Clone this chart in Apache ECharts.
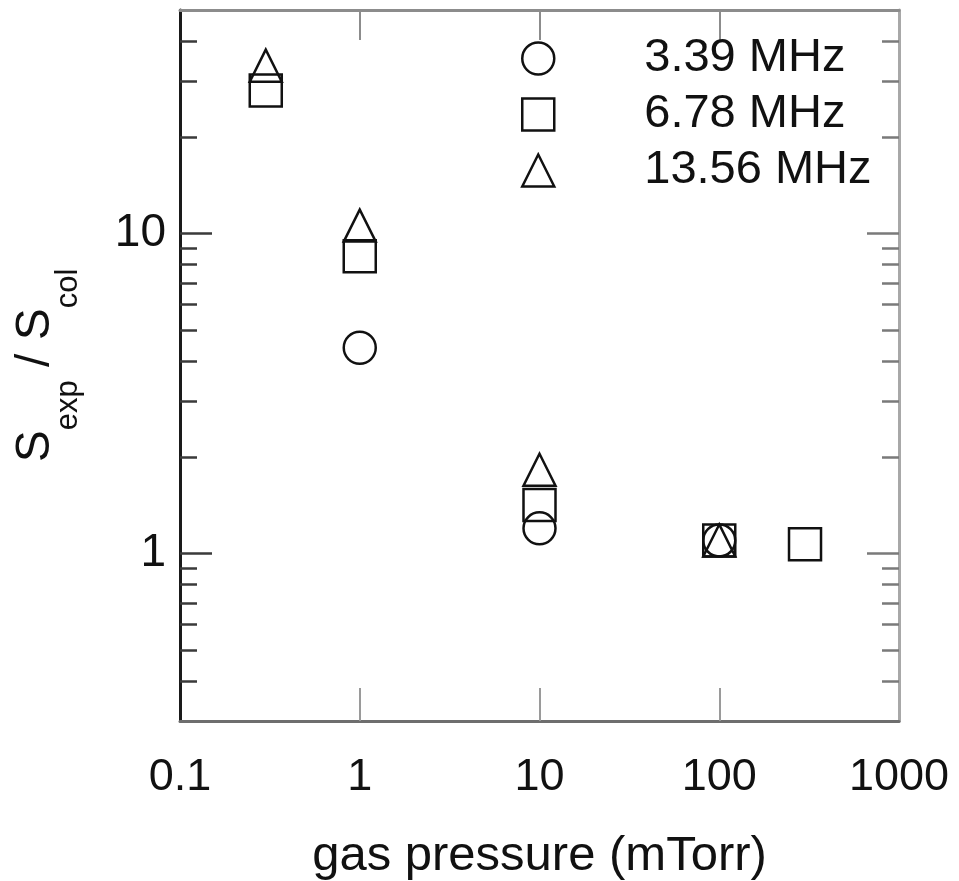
<!DOCTYPE html>
<html><head><meta charset="utf-8">
<script src="https://cdn.jsdelivr.net/npm/echarts@6/dist/echarts.min.js"></script>
<style>html,body{margin:0;padding:0;background:#fff}#c{width:959px;height:881px}</style>
</head><body><div id="c"></div>
<script>
// ---- data ----
const seriesNames = ['3.39 MHz', '6.78 MHz', '13.56 MHz'];
const seriesSymbols = ['circle', 'rect', 'triangle'];
const pressure339 = [1, 10, 100];
const ratio339 = [4.4, 1.2, 1.1];
const pressure678 = [0.3, 1, 10, 100, 300];
const ratio678 = [28, 8.5, 1.42, 1.1, 1.07];
const pressure1356 = [0.3, 1, 10, 100];
const ratio1356 = [33.5, 10.6, 1.83, 1.1];
const xTickLabels = [0.1, 1, 10, 100, 1000];
const xInnerTicks = [1, 10, 100];
const yMajorTicks = [1, 10];
const yMinorTicks = [0.4, 0.5, 0.6, 0.7, 0.8, 0.9, 2, 3, 4, 5, 6, 7, 8, 9, 20, 30, 40];
const xTitle = 'gas pressure (mTorr)';

const FONT = '"Liberation Sans", Arial, Helvetica, sans-serif';
const INK = '#111';
const pairs = (xs, ys) => xs.map((x, i) => [x, ys[i]]);
const allX = [pressure339, pressure678, pressure1356];
const allY = [ratio339, ratio678, ratio1356];

function yAx(pos, major, showLabel, withName) {
  const ax = {
    type: 'log', logBase: 10, min: 0.3, max: 50, position: pos,
    gridIndex: 0, splitLine: { show: false },
    axisLine: { show: major, lineStyle: { color: pos === 'left' ? '#1a1a1a' : '#a8a8a8', width: 3 } },
    axisTick: {
      show: true, inside: true, length: major ? 32 : 17,
      customValues: major ? yMajorTicks : yMinorTicks,
      lineStyle: { color: pos === 'left' ? '#3a3a3a' : '#7a7a7a', width: 2.5 }
    },
    axisLabel: {
      show: showLabel, customValues: yMajorTicks, margin: 14,
      fontSize: 46, fontFamily: FONT, color: INK,
      formatter: v => String(v)
    },
    minorTick: { show: false }, minorSplitLine: { show: false }
  };
  if (withName) {
    ax.name = '{s|S}{sub|exp}{s| / S}{sub|col}';
    ax.nameLocation = 'middle';
    ax.nameRotate = 90;
    ax.nameGap = 96;
    ax.nameTextStyle = {
      fontFamily: FONT, color: INK,
      rich: {
        s: { fontSize: 48, fontFamily: FONT, color: INK, lineHeight: 72, verticalAlign: 'top' },
        sub: { fontSize: 31, fontFamily: FONT, color: INK, lineHeight: 72, verticalAlign: 'bottom' }
      }
    };
  }
  return ax;
}

const chart = echarts.init(document.getElementById('c'), null, { renderer: 'canvas' });
chart.setOption({
  backgroundColor: '#fff',
  animation: false,
  grid: { left: 180, right: 60, top: 10, bottom: 160, containLabel: false, outerBoundsMode: 'none' },
  xAxis: [
    {
      type: 'log', logBase: 10, min: 0.1, max: 1000, position: 'bottom',
      splitLine: { show: false },
      axisLine: { lineStyle: { color: '#6e6e6e', width: 3 } },
      axisTick: { inside: true, length: 33, customValues: xInnerTicks, lineStyle: { color: '#9a9a9a', width: 2 } },
      axisLabel: {
        customValues: xTickLabels, margin: 34, fontSize: 45, fontFamily: FONT, color: INK,
        formatter: v => String(v)
      },
      name: xTitle, nameLocation: 'middle', nameGap: 111,
      nameTextStyle: { fontSize: 49, fontFamily: FONT, color: INK }
    },
    {
      type: 'log', logBase: 10, min: 0.1, max: 1000, position: 'top',
      splitLine: { show: false },
      axisLine: { lineStyle: { color: '#8c8c8c', width: 3 } },
      axisTick: { inside: true, length: 30, customValues: xInnerTicks, lineStyle: { color: '#8c8c8c', width: 2 } },
      axisLabel: { show: false }
    }
  ],
  yAxis: [
    yAx('left', true, true, true),
    yAx('left', false, false, false),
    yAx('right', true, false, false),
    yAx('right', false, false, false)
  ],
  legend: {
    orient: 'vertical', left: 521, top: 35, padding: 0,
    itemWidth: 32, itemHeight: 32, itemGap: 9,
    data: seriesNames.map((n, i) => ({ name: n, icon: seriesSymbols[i] })),
    itemStyle: { color: 'transparent', borderColor: INK, borderWidth: 2.5 },
    textStyle: { fontSize: 47, fontFamily: FONT, color: INK, padding: [0, 0, 0, 85] },
    selectedMode: false
  },
  series: seriesNames.map((n, i) => ({
    name: n, type: 'scatter', xAxisIndex: 0, yAxisIndex: 0,
    symbol: seriesSymbols[i], symbolSize: 32,
    itemStyle: { color: 'transparent', borderColor: INK, borderWidth: 2.5, opacity: 1 },
    emphasis: { disabled: true },
    data: pairs(allX[i], allY[i])
  }))
});
</script></body></html>
